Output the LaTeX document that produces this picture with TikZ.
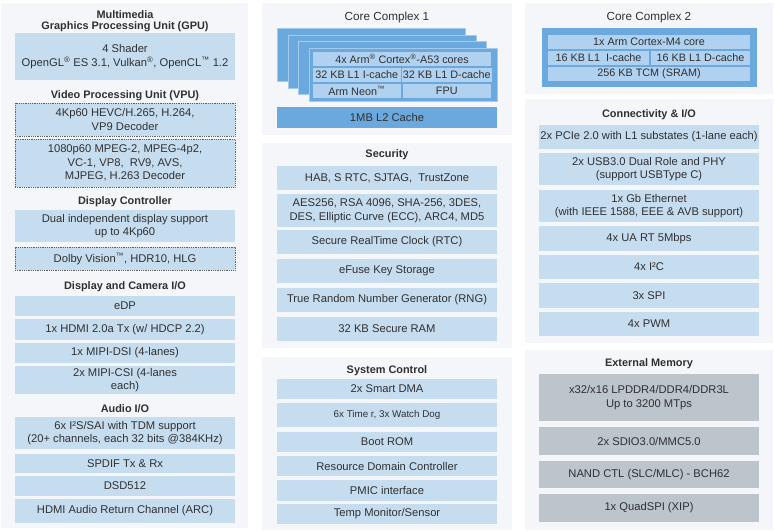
\documentclass[tikz,border=0pt]{standalone}
\usepackage{fontspec}
\setmainfont{Liberation Sans}

\definecolor{panelbg}{RGB}{244,246,249}
\definecolor{cellblue}{RGB}{198,221,240}
\definecolor{coreblue}{RGB}{106,168,222}
\definecolor{coreedge}{RGB}{165,203,237}
\definecolor{corecellc}{RGB}{176,209,239}
\definecolor{memgrey}{RGB}{188,196,204}
\definecolor{txtgrey}{RGB}{48,48,48}
\definecolor{dotgrey}{RGB}{95,95,95}

\tikzset{every picture/.style={line width=0.75pt}}
\tikzset{
  panel/.style={fill=panelbg},
  cell/.style={fill=cellblue, text=txtgrey, align=center, inner sep=1pt, font=\fontsize{11.2}{13.5}\selectfont},
  dotcell/.style={cell, draw=dotgrey, line width=0.7pt, dash pattern=on 0.9pt off 0.9pt},
  memcell/.style={cell, fill=memgrey},
  corelayer/.style={fill=coreblue, draw=coreedge, line width=0.8pt, inner sep=0pt},
  corecell/.style={cell, fill=corecellc, font=\fontsize{10.8}{13}\selectfont},
  ccbox/.style={cell, fill=coreblue},
  ttl/.style={text=txtgrey, align=center, inner sep=0pt, font=\bfseries\fontsize{10.9}{10.5}\selectfont},
  cctitle/.style={text=txtgrey, inner sep=0pt, font=\fontsize{11.7}{13}\selectfont}
}

\begin{document}
\begin{tikzpicture}[x=1pt,y=1pt,yscale=-1]
\useasboundingbox (0,0) rectangle (775,531);

%Shape: Panels
\fill[panel] (1,3) rectangle (248,528);
\fill[panel] (262,3) rectangle (512,135);
\fill[panel] (262,143) rectangle (512,348);
\fill[panel] (262,357) rectangle (512,530);
\fill[panel] (525,3) rectangle (773,94);
\fill[panel] (525,99) rectangle (773,343);
\fill[panel] (525,350) rectangle (773,530);

% Left column
\node[ttl] (tgpu) at (125,21) {Multimedia\\Graphics Processing Unit (GPU)};
\node[cell, minimum width=220, minimum height=47] (gpu) at (125,56.5) {4 Shader\\OpenGL\textsuperscript{®} ES 3.1, Vulkan\textsuperscript{®}, OpenCL\textsuperscript{™} 1.2};
\node[ttl] (tvpu) at (125,96) {Video Processing Unit (VPU)};
\node[dotcell, minimum width=220, minimum height=33] (vpuA) at (125,119.5) {4Kp60 HEVC/H.265, H.264,\\VP9 Decoder};
\node[dotcell, minimum width=220, minimum height=48] (vpuB) at (125,163) {1080p60 MPEG-2, MPEG-4p2,\\VC-1, VP8,\ \ RV9, AVS,\\MJPEG, H.263 Decoder};
\node[ttl] (tdisp) at (125,202) {Display Controller};
\node[cell, minimum width=220, minimum height=32] (dispctl) at (125,226) {Dual independent display support\\up to 4Kp60};
\node[dotcell, minimum width=220, minimum height=23] (dolby) at (125,258.5) {Dolby Vision\textsuperscript{™}, HDR10, HLG};
\node[ttl] (tdcio) at (125,287) {Display and Camera I/O};
\node[cell, minimum width=220, minimum height=20] (edp) at (125,306) {eDP};
\node[cell, minimum width=220, minimum height=21] (hdmi) at (125,329.5) {1x HDMI 2.0a Tx (w/ HDCP 2.2)};
\node[cell, minimum width=220, minimum height=20] (mipidsi) at (125,353) {1x MIPI-DSI (4-lanes)};
\node[cell, minimum width=220, minimum height=28] (mipicsi) at (125,380) {2x MIPI-CSI (4-lanes\\each)};
\node[ttl] (taudio) at (125,409) {Audio I/O};
\node[cell, minimum width=220, minimum height=32] (i2s) at (125,433) {6x I²S/SAI with TDM support\\(20+ channels, each 32 bits @384KHz)};
\node[cell, minimum width=220, minimum height=19] (spdif) at (125,463.5) {SPDIF Tx \& Rx};
\node[cell, minimum width=220, minimum height=20] (dsd) at (125,486) {DSD512};
\node[cell, minimum width=220, minimum height=24] (arc) at (125,511) {HDMI Audio Return Channel (ARC)};

% Middle column
\node[cctitle] (tcc1) at (387,17) {Core Complex 1};
\node[corelayer, minimum width=188, minimum height=53] (coreA) at (371,55) {};
\node[corelayer, minimum width=188, minimum height=53] (coreB) at (382,61.5) {};
\node[corelayer, minimum width=188, minimum height=53] (coreC) at (392.5,68) {};
\node[corelayer, minimum width=188, minimum height=53] (coreD) at (403,74.5) {};
\node[corecell, minimum width=178, minimum height=14] (a53) at (402,59) {4x Arm\textsuperscript{®} Cortex\textsuperscript{®}-A53 cores};
\node[corecell, minimum width=87.5, minimum height=14] (icache) at (356.75,75) {32 KB L1 I-cache};
\node[corecell, minimum width=88.5, minimum height=14] (dcache) at (446.75,75) {32 KB L1 D-cache};
\node[corecell, minimum width=87.5, minimum height=14] (neon) at (356.75,91) {Arm Neon\textsuperscript{™}};
\node[corecell, minimum width=88.5, minimum height=14] (fpu) at (446.75,91) {FPU};
\node[ccbox, minimum width=220, minimum height=21] (ltwo) at (387,117.5) {1MB L2 Cache};

\node[ttl] (tsec) at (387,155) {Security};
\node[cell, minimum width=220, minimum height=24] (hab) at (387,178) {HAB, S RTC, SJTAG,\ \ TrustZone};
\node[cell, minimum width=220, minimum height=33] (aes) at (387,210.5) {AES256, RSA 4096, SHA-256, 3DES,\\DES, Elliptic Curve (ECC), ARC4, MD5};
\node[cell, minimum width=220, minimum height=24] (rtc) at (387,242) {Secure RealTime Clock (RTC)};
\node[cell, minimum width=220, minimum height=24] (efuse) at (387,271) {eFuse Key Storage};
\node[cell, minimum width=220, minimum height=24] (rng) at (387,300) {True Random Number Generator (RNG)};
\node[cell, minimum width=220, minimum height=24] (secram) at (387,329) {32 KB Secure RAM};

\node[ttl] (tsys) at (387,371) {System Control};
\node[cell, minimum width=220, minimum height=20] (dma) at (387,389) {2x Smart DMA};
\node[cell, minimum width=220, minimum height=24, font=\fontsize{9.8}{11}\selectfont] (timer) at (387,415) {6x Time r, 3x Watch Dog};
\node[cell, minimum width=220, minimum height=20] (bootrom) at (387,442) {Boot ROM};
\node[cell, minimum width=220, minimum height=20] (rdc) at (387,466) {Resource Domain Controller};
\node[cell, minimum width=220, minimum height=21] (pmic) at (387,490.5) {PMIC interface};
\node[cell, minimum width=220, minimum height=20] (temp) at (387,514) {Temp Monitor/Sensor};

% Right column
\node[cctitle] (tcc2) at (649,17) {Core Complex 2};
\node[ccbox, minimum width=215, minimum height=59] (mfour) at (649.5,57.5) {};
\node[corecell, minimum width=202, minimum height=14] (mcore) at (649,42) {1x Arm Cortex-M4 core};
\node[corecell, minimum width=101, minimum height=14] (micache) at (598.5,58) {16 KB L1\ \ I-cache};
\node[corecell, minimum width=99, minimum height=14] (mdcache) at (700.5,58) {16 KB L1 D-cache};
\node[corecell, minimum width=202, minimum height=14] (tcm) at (649,74) {256 KB TCM (SRAM)};

\node[ttl] (tconn) at (649,115) {Connectivity \& I/O};
\node[cell, minimum width=220, minimum height=24] (pcie) at (649,137) {2x PCIe 2.0 with L1 substates (1-lane each)};
\node[cell, minimum width=220, minimum height=32] (usb) at (649,169) {2x USB3.0 Dual Role and PHY\\(support USBType C)};
\node[cell, minimum width=220, minimum height=32] (eth) at (649,206) {1x Gb Ethernet\\(with IEEE 1588, EEE \& AVB support)};
\node[cell, minimum width=220, minimum height=25] (uart) at (649,238.5) {4x UA RT 5Mbps};
\node[cell, minimum width=220, minimum height=24] (itwoc) at (649,267) {4x I²C};
\node[cell, minimum width=220, minimum height=25] (spi) at (649,295.5) {3x SPI};
\node[cell, minimum width=220, minimum height=24] (pwm) at (649,324) {4x PWM};

\node[ttl] (tmem) at (649,364) {External Memory};
\node[memcell, minimum width=220, minimum height=47] (ddr) at (649,397.5) {x32/x16 LPDDR4/DDR4/DDR3L\\Up to 3200 MTps};
\node[memcell, minimum width=220, minimum height=28] (sdio) at (649,441) {2x SDIO3.0/MMC5.0};
\node[memcell, minimum width=220, minimum height=27] (nand) at (649,474.5) {NAND CTL (SLC/MLC) - BCH62};
\node[memcell, minimum width=220, minimum height=28] (qspi) at (649,508) {1x QuadSPI (XIP)};

\end{tikzpicture}
\end{document}
